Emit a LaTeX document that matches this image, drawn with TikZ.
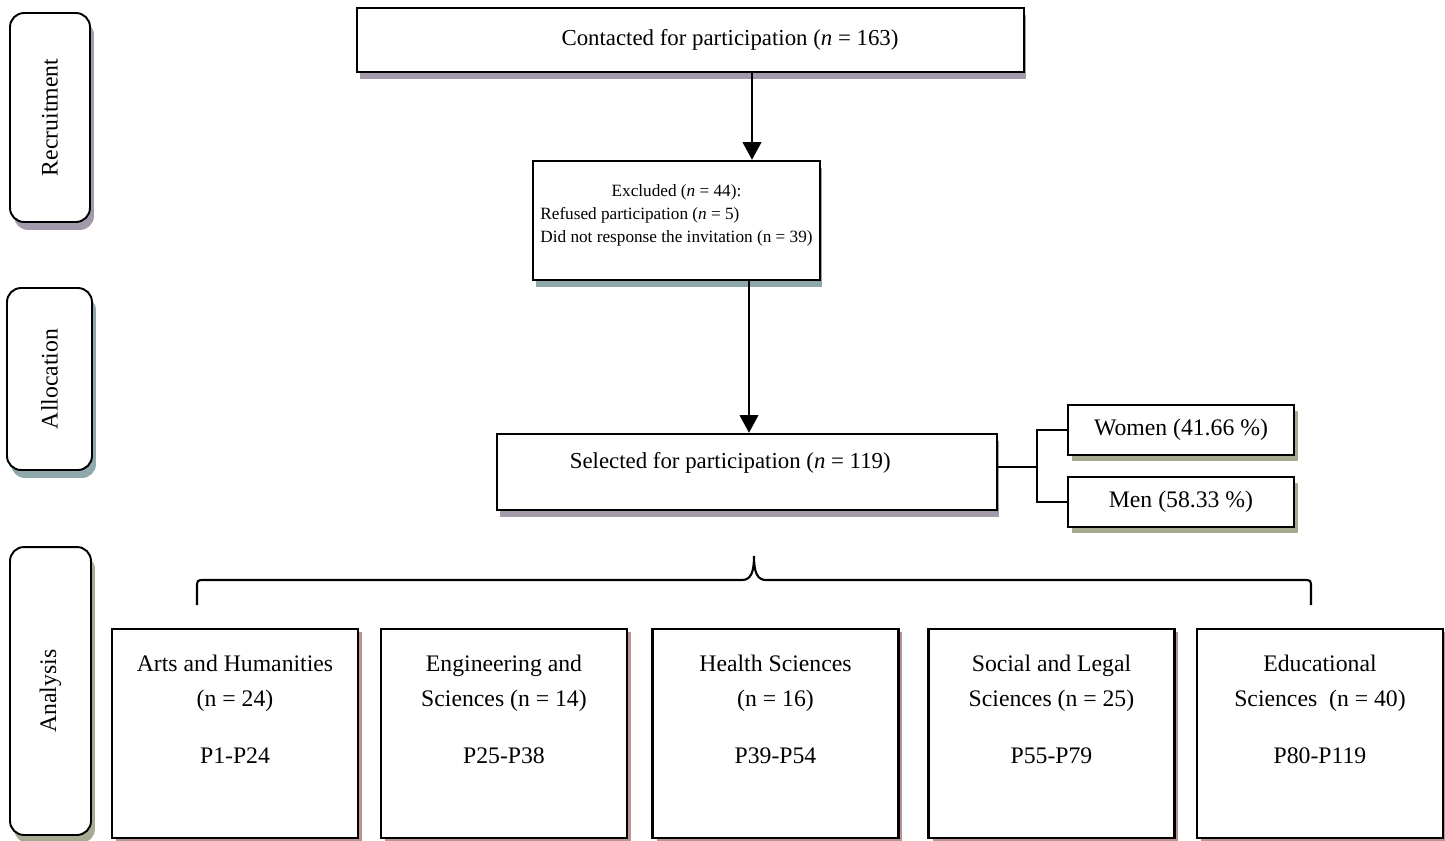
\documentclass[tikz,border=0pt]{standalone}
\usepackage{fontspec}
\setmainfont{Liberation Serif}
\usetikzlibrary{arrows.meta, shadows}
\definecolor{shadelilac}{HTML}{A39BAC}
\definecolor{shadeteal}{HTML}{8FA8AC}
\definecolor{shadeolive}{HTML}{A7AB92}
\definecolor{shaderose}{HTML}{B89593}
\newcommand{\fieldtext}[1]{\parbox[c][89pt][t]{4.6cm}{\centering\baselineskip=20pt #1}}

\begin{document}
\begin{tikzpicture}[x=0.02cm,y=-0.02cm,>={Triangle[length=10pt,width=10.5pt]},
 every node/.style={font=\fontsize{13.5}{16}\selectfont},
 castshadow/.style={drop shadow={shadow xshift=0.05cm,shadow yshift=-0.14cm,fill=#1,opacity=1}},
 box/.style={rectangle,draw,line width=1.4pt,fill=white,inner sep=2pt},
 sidebox/.style={box,rounded corners=8pt,line width=1.1pt},
 fieldbox/.style={box,minimum width=4.92cm,minimum height=4.18cm,inner sep=0pt,
   drop shadow={shadow xshift=0.08cm,shadow yshift=-0.06cm,fill=shaderose,opacity=1}},
 flow/.style={->,line width=1.2pt},
 link/.style={line width=0.8pt}]
 \useasboundingbox (0,0) rectangle (1445,840);
 % stage labels
 \node[sidebox,minimum width=1.6cm,minimum height=4.18cm,
   drop shadow={shadow xshift=0.08cm,shadow yshift=-0.16cm,fill=shadelilac,opacity=1}]
   (recruit) at (50,117.5) {\rotatebox{90}{Recruitment}};
 \node[sidebox,minimum width=1.7cm,minimum height=3.64cm,
   drop shadow={shadow xshift=0.08cm,shadow yshift=-0.16cm,fill=shadeteal,opacity=1}]
   (alloc) at (49.5,379) {\rotatebox{90}{Allocation}};
 \node[sidebox,minimum width=1.62cm,minimum height=5.76cm,
   drop shadow={shadow xshift=0.08cm,shadow yshift=-0.16cm,fill=shadeolive,opacity=1}]
   (analysis) at (50.5,691) {\rotatebox{90}{Analysis}};
 % flow
 \node[box,minimum width=13.34cm,minimum height=1.28cm,castshadow=shadelilac,
   font=\fontsize{13}{16}\selectfont]
   (contact) at (690.5,40) {\hspace*{45pt}Contacted for participation (\textit{n} = 163)};
 \node[box,minimum width=5.74cm,minimum height=2.38cm,castshadow=shadeteal,
   font=\fontsize{9.8}{13.1}\selectfont] (excl) at (676.5,220.5)
   {\begin{tabular}{@{}l@{}}
    \multicolumn{1}{@{}c@{}}{Excluded (\textit{n} = 44):}\\
    Refused participation (\textit{n} = 5)\\
    Did not response the invitation (n = 39)\\[6.8pt]
    \end{tabular}};
 \node[box,minimum width=10cm,minimum height=1.52cm,text depth=13pt,castshadow=shadelilac,
   font=\fontsize{13}{16}\selectfont]
   (sel) at (747,472) {Selected for participation (\textit{n} = 119)\hspace*{19pt}};
 \node[box,line width=1.2pt,minimum width=4.52cm,minimum height=1cm,
   drop shadow={shadow xshift=0.08cm,shadow yshift=-0.12cm,fill=shadeolive,opacity=1}]
   (women) at (1181,430) {Women (41.66 \%)};
 \node[box,line width=1.2pt,minimum width=4.52cm,minimum height=1cm,
   drop shadow={shadow xshift=0.08cm,shadow yshift=-0.12cm,fill=shadeolive,opacity=1}]
   (men) at (1181,502) {Men (58.33 \%)};
 \coordinate (c1) at (752,0);
 \coordinate (c2) at (749,0);
 \coordinate (split) at (1037,467);
 \draw[flow] (contact.south -| c1) -- (excl.north -| c1);
 \draw[flow] (excl.south -| c2) -- (sel.north -| c2);
 \draw[link] (sel.east |- split) -- (split);
 \draw[link] (women.west) -| (split) |- (men.west);
 % brace over the fields
 \draw[line width=1.2pt] (197,605) -- (197,588) .. controls (197,580) .. (205,580)
   -- (742,580) .. controls (751,580) and (754,572) .. (754,556)
   .. controls (754,572) and (757,580) .. (766,580)
   -- (1303,580) .. controls (1311,580) .. (1311,588) -- (1311,605);
 % fields
 \node[fieldbox] (arts) at (235,733.5)
   {\fieldtext{Arts and Humanities\\(n = 24)\\[12.4pt]P1-P24}};
 \node[fieldbox] (eng) at (504,733.5)
   {\fieldtext{Engineering and\\Sciences (n = 14)\\[12.4pt]P25-P38}};
 \node[fieldbox] (health) at (775.5,733.5)
   {\fieldtext{Health Sciences\\(n = 16)\\[12.4pt]P39-P54}};
 \node[fieldbox] (social) at (1051.5,733.5)
   {\fieldtext{Social and Legal\\Sciences (n = 25)\\[12.4pt]P55-P79}};
 \node[fieldbox] (edu) at (1320,733.5)
   {\fieldtext{Educational\\Sciences~ (n = 40)\\[12.4pt]P80-P119}};
\end{tikzpicture}
\end{document}
